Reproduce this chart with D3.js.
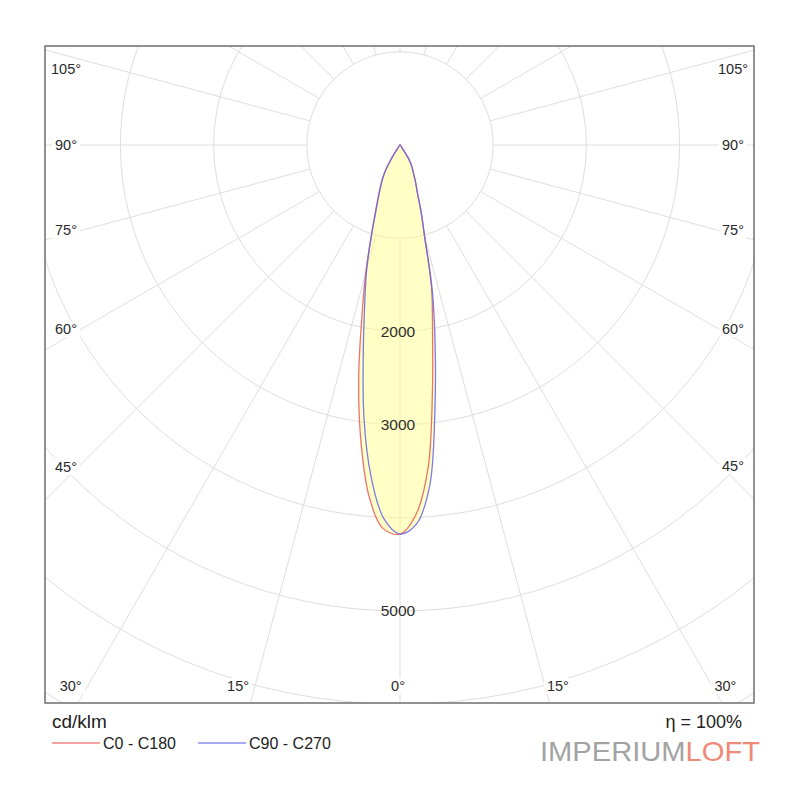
<!DOCTYPE html>
<html><head><meta charset="utf-8">
<script src="https://cdn.jsdelivr.net/npm/d3@7/dist/d3.min.js"></script>
<style>body{margin:0;background:#fff}svg{display:block}text{font-family:"Liberation Sans",Arial,sans-serif}</style>
</head><body>
<svg id="c" width="800" height="800"></svg>
<script>
// ---- data ----
const gammas = [0, 2.5, 5, 7.5, 10, 12.5, 15, 17.5, 20, 22.5, 25, 27.5, 30, 32.5, 35, 40];
const c180 = [4175, 4120, 3790, 3210, 2555, 1890, 1420, 1030, 775, 615, 500, 405, 300, 165, 40, 0]; // left half, C0-C180
const c0   = [4175, 3965, 3470, 2665, 2010, 1560, 1020, 750, 545, 440, 350, 290, 235, 155, 40, 0];  // right half, C0-C180
const c270 = [4175, 4010, 3570, 2960, 2270, 1750, 1380, 1020, 760, 605, 492, 400, 295, 160, 40, 0]; // left half, C90-C270
const c90  = [4175, 4070, 3665, 2870, 2170, 1600, 1030, 755, 545, 440, 350, 290, 235, 155, 40, 0];  // right half, C90-C270
const rings = [1000, 2000, 3000, 4000, 5000, 6000, 7000];
const ringLabels = [2000, 3000, 5000];
const angleTicks = [0, 15, 30, 45, 60, 75, 90, 105];
const radialAngles = [0, 15, 30, 45, 60, 75, 90, 105, 120, 135, 150, 165, 180];
const unitLabel = "cd/klm";
const effLabel = "η = 100%";
const seriesNames = ["C0 - C180", "C90 - C270"];

// ---- layout ----
const svg = d3.select("#c");
const box = {l: 45, t: 46, r: 754, b: 703};
const cx = 400, cy = 145;
const rs = d3.scaleLinear().domain([0, 1000]).range([0, 93.2]);
const rad = d => d * Math.PI / 180;
const pt = (theta, r, side) => [cx + side * rs(r) * Math.sin(rad(theta)), cy + rs(r) * Math.cos(rad(theta))];

svg.append("rect").attr("width", 800).attr("height", 800).attr("fill", "#fff");
svg.append("clipPath").attr("id", "clip").append("rect")
  .attr("x", box.l).attr("y", box.t).attr("width", box.r - box.l).attr("height", box.b - box.t);

const grid = svg.append("g").attr("clip-path", "url(#clip)");
grid.selectAll("circle.ring").data(rings).join("circle")
  .attr("cx", cx).attr("cy", cy).attr("r", d => rs(d))
  .attr("fill", "none").attr("stroke", "#dedede").attr("stroke-width", 1);
const rad2 = [];
radialAngles.forEach(a => { rad2.push([a, 1]); if (a > 0 && a < 180) rad2.push([a, -1]); });
grid.selectAll("line.rad").data(rad2).join("line")
  .attr("x1", d => pt(d[0], 1000, d[1])[0]).attr("y1", d => pt(d[0], 1000, d[1])[1])
  .attr("x2", d => pt(d[0], 9000, d[1])[0]).attr("y2", d => pt(d[0], 9000, d[1])[1])
  .attr("stroke", "#dedede").attr("stroke-width", 1);

// ---- curves ----
function halfPoints(left, right) {
  const pts = [];
  for (let i = gammas.length - 1; i >= 0; i--) pts.push(pt(gammas[i], left[i], -1));
  for (let i = 1; i < gammas.length - 1; i++) pts.push(pt(gammas[i], right[i], 1));
  return pts;
}
const lineGen = d3.line().curve(d3.curveCatmullRomClosed.alpha(0.5));
const redPts = halfPoints(c180, c0), bluePts = halfPoints(c270, c90);
svg.append("path").attr("d", lineGen(redPts) + lineGen(bluePts))
  .attr("fill", "#ffff80").attr("fill-opacity", 0.45).attr("fill-rule", "nonzero").attr("stroke", "none");
svg.append("path").attr("d", lineGen(redPts)).attr("fill", "none")
  .attr("stroke", "#e85a5a").attr("stroke-width", 1.3).attr("stroke-opacity", 0.85);
svg.append("path").attr("d", lineGen(bluePts)).attr("fill", "none")
  .attr("stroke", "#6464e8").attr("stroke-width", 1.3).attr("stroke-opacity", 0.85);

// ---- ring labels ----
svg.selectAll("text.rl").data(ringLabels).join("text")
  .attr("x", cx - 2).attr("y", d => cy + rs(d)).attr("dy", "0.35em")
  .attr("text-anchor", "middle").attr("font-size", 15.5).attr("fill", "#2e2e2e").text(d => d);

// ---- angle labels ----
const alabels = [];
angleTicks.forEach(a => {
  const sides = a === 0 ? [1] : [-1, 1];
  sides.forEach(s => {
    let x, y;
    if (a >= 45) {
      x = s < 0 ? box.l + 21 : box.r - 21;
      const dx = Math.abs(x - cx);
      y = cy + dx * Math.cos(rad(a)) / Math.sin(rad(a)) - 17 * Math.cos(rad(a));
      y = Math.max(y, box.t + 23);
    } else {
      y = box.b - 17;
      x = cx + s * ((y - cy) * Math.tan(rad(a)) + (a > 0 ? 15 : 0)) - 2;
      x = Math.max(box.l + 25, Math.min(box.r - 25, x));
    }
    alabels.push({a, x, y});
  });
});
const ag = svg.append("g");
alabels.forEach(d => {
  const g = ag.append("g");
  const t = g.append("text").attr("x", d.x).attr("y", d.y).attr("dy", "0.35em")
    .attr("text-anchor", "middle").attr("font-size", 14.5).attr("fill", "#2a2a2a").text(d.a + "°");
  const bb = t.node().getBBox();
  g.insert("rect", "text").attr("x", bb.x - 3).attr("y", bb.y).attr("width", bb.width + 6).attr("height", bb.height).attr("fill", "#fff");
});

// ---- frame ----
svg.append("rect").attr("x", box.l).attr("y", box.t).attr("width", box.r - box.l).attr("height", box.b - box.t)
  .attr("fill", "none").attr("stroke", "#6e6e6e").attr("stroke-width", 1.5);

// ---- bottom texts and legend ----
svg.append("text").attr("x", 52).attr("y", 728).attr("font-size", 19).attr("fill", "#222").text(unitLabel);
svg.append("text").attr("x", 742).attr("y", 728).attr("text-anchor", "end").attr("font-size", 18).attr("fill", "#222").text(effLabel);
const legendColors = ["#f4a3a3", "#a9a9f4"];
const legX = [52, 198];
seriesNames.forEach((n, i) => {
  svg.append("line").attr("x1", legX[i]).attr("x2", legX[i] + 48).attr("y1", 743).attr("y2", 743)
    .attr("stroke", legendColors[i]).attr("stroke-width", 2);
  svg.append("text").attr("x", legX[i] + 51).attr("y", 749).attr("font-size", 16).attr("fill", "#222").text(n);
});

// ---- logo ----
const logo = svg.append("text").attr("x", 540).attr("y", 761).attr("font-size", 28)
  .attr("font-family", "Lato, 'Open Sans', sans-serif").attr("font-weight", 200)
  .attr("textLength", 220).attr("lengthAdjust", "spacingAndGlyphs");
logo.append("tspan").attr("fill", "#a3a3a3").text("IMPERIUM");
logo.append("tspan").attr("fill", "#f08a78").text("LOFT");
</script>
</body></html>
